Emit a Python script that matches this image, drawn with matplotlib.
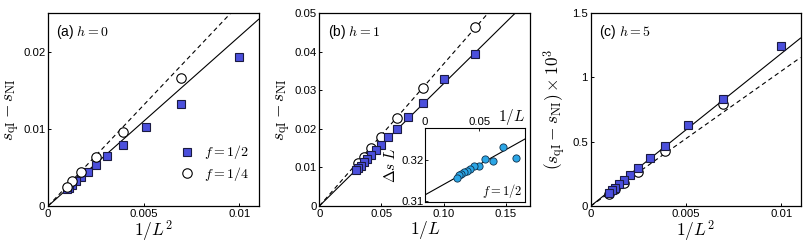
import matplotlib
matplotlib.use("Agg")
import matplotlib.pyplot as plt
import numpy as np

plt.rcParams["font.family"] = ["Liberation Sans", "DejaVu Sans"]
plt.rcParams["mathtext.fontset"] = "cm"

# system sizes
L_half = np.array([10, 12, 14, 16, 18, 20, 22, 24, 26, 28, 30, 32])
L_quarter = np.array([12, 16, 20, 24, 28, 32])
L_half_b = np.array([8, 10, 12, 14, 16, 18, 20, 22, 24, 26, 28, 30, 32, 34])
L_quarter_b = np.array([8, 12, 16, 20, 24, 28, 32])
L_inset = np.array([12, 14, 16, 18, 20, 22, 24, 26, 28, 30, 32, 34])

# (a) h = 0
a_half = [0.0193, 0.0132, 0.0103, 0.0079, 0.0065, 0.0053, 0.0044, 0.00375,
          0.0032, 0.00276, 0.00237, 0.00216]
a_quarter = [0.0166, 0.0096, 0.0063, 0.0044, 0.0032, 0.0025]
a_slope_solid = 2.2
a_slope_dashed = 2.62

# (b) h = 1
b_half = [0.0395, 0.0330, 0.0267, 0.0231, 0.0200, 0.0178, 0.0159, 0.0145,
          0.0132, 0.0122, 0.0113, 0.0105, 0.0099, 0.0093]
b_quarter = [0.0465, 0.0305, 0.0228, 0.0180, 0.0150, 0.0128, 0.0112]
b_slope_solid = 0.317
b_slope_dashed = 0.368
inset_vals = [0.3204, 0.3231, 0.3198, 0.3201, 0.3186, 0.3184, 0.3177, 0.3173,
              0.3170, 0.3166, 0.3162, 0.3156]
inset_a, inset_b = 0.3115, 0.147

# (c) h = 5, in units of 1e-3
c_half = [1.243, 0.829, 0.627, 0.466, 0.376, 0.295, 0.244, 0.200, 0.168,
          0.142, 0.122, 0.104]
c_quarter = [0.790, 0.427, 0.264, 0.179, 0.135, 0.091]
c_slope_solid = 118.7
c_slope_dashed = 105.0

sq_kw = dict(marker="s", ls="none", ms=6.2, mfc="#4b4fdc", mec="#1a1a40", mew=0.8)
ci_kw = dict(marker="o", ls="none", ms=6.8, mfc="white", mec="black", mew=0.8)
tick_fs = 8.2
lab_fs = 12.5
panel_fs = 10

fig = plt.figure(figsize=(8.1, 2.43), dpi=100)
ax_a = fig.add_axes([0.0593, 0.152, 0.260, 0.794])
ax_b = fig.add_axes([0.3942, 0.152, 0.2607, 0.794])
ax_c = fig.add_axes([0.7293, 0.152, 0.259, 0.794])


def style(ax):
    ax.tick_params(direction="in", length=2.5, width=0.7, labelsize=tick_fs,
                   pad=2, top=False, right=False)
    for s in ax.spines.values():
        s.set_linewidth(0.9)


# panel a
xl = np.array([0, 0.011])
ax_a.plot(xl, a_slope_solid * xl, color="black", lw=0.8)
ax_a.plot(xl, a_slope_dashed * xl, color="black", lw=0.8, ls=(0, (4, 3)))
ax_a.plot(1 / L_half**2, a_half, label=r"$f=1/2$", **sq_kw)
ax_a.plot(1 / L_quarter**2, a_quarter, label=r"$f=1/4$", **ci_kw)
ax_a.set_xlim(0, 0.011)
ax_a.set_ylim(0, 0.025)
ax_a.set_xticks([0, 0.005, 0.01])
ax_a.set_xticklabels(["0", "0.005", "0.01"])
ax_a.set_yticks([0, 0.01, 0.02])
ax_a.set_yticklabels(["0", "0.01", "0.02"])
ax_a.set_xlabel(r"$1/L^2$", fontsize=lab_fs, labelpad=0)
ax_a.set_ylabel(r"$s_{\rm qI}-s_{\rm NI}$", fontsize=lab_fs, labelpad=1)
ax_a.text(0.04, 0.95, r"(a) $h=0$", transform=ax_a.transAxes,
          fontsize=panel_fs, va="top", ha="left")
ax_a.legend(loc="lower right", bbox_to_anchor=(1.0, 0.07), frameon=False,
            fontsize=10, handletextpad=0.6, labelspacing=0.25,
            borderaxespad=0.3, handlelength=1.2)
style(ax_a)

# panel b
xl = np.array([0, 0.17])
ax_b.plot(xl, b_slope_solid * xl, color="black", lw=0.8)
ax_b.plot(xl, b_slope_dashed * xl, color="black", lw=0.8, ls=(0, (4, 3)))
ax_b.plot(1 / L_quarter_b, b_quarter, **ci_kw)
ax_b.plot(1 / L_half_b, b_half, **sq_kw)
ax_b.set_xlim(0, 0.17)
ax_b.set_ylim(0, 0.05)
ax_b.set_xticks([0, 0.05, 0.10, 0.15])
ax_b.set_xticklabels(["0", "0.05", "0.10", "0.15"])
ax_b.set_yticks([0, 0.01, 0.02, 0.03, 0.04, 0.05])
ax_b.set_yticklabels(["0", "0.01", "0.02", "0.03", "0.04", "0.05"])
ax_b.set_xlabel(r"$1/L$", fontsize=lab_fs, labelpad=0)
ax_b.set_ylabel(r"$s_{\rm qI}-s_{\rm NI}$", fontsize=lab_fs, labelpad=1)
ax_b.text(0.04, 0.95, r"(b) $h=1$", transform=ax_b.transAxes,
          fontsize=panel_fs, va="top", ha="left")
style(ax_b)

# inset of panel b
ax_in = fig.add_axes([0.5247, 0.169, 0.1235, 0.303])
xi = np.array([0, 0.092])
ax_in.plot(xi, inset_a + inset_b * xi, color="black", lw=0.8)
ax_in.plot(1 / L_inset, inset_vals, marker="o", ls="none", ms=5.2,
           mfc="#2ba6e6", mec="#10304a", mew=0.6)
ax_in.set_xlim(0, 0.092)
ax_in.set_ylim(0.3098, 0.3276)
ax_in.xaxis.tick_top()
ax_in.set_xticks([0, 0.05])
ax_in.set_xticklabels(["0", "0.05"])
ax_in.set_yticks([0.31, 0.32])
ax_in.set_yticklabels(["0.31", "0.32"])
ax_in.tick_params(direction="in", length=2, width=0.6, labelsize=tick_fs, pad=1)
ax_in.text(0.97, 0.03, r"$f=1/2$", transform=ax_in.transAxes, fontsize=9,
           ha="right", va="bottom")
ax_in.text(1.0, 1.02, r"$1/L$", transform=ax_in.transAxes, fontsize=11,
           ha="right", va="bottom")
ax_in.set_ylabel(r"$\Delta s\;L$", fontsize=11, labelpad=2.5)
for s in ax_in.spines.values():
    s.set_linewidth(0.8)

# panel c
xl = np.array([0, 0.011])
ax_c.plot(xl, c_slope_solid * xl, color="black", lw=0.8)
ax_c.plot(xl, c_slope_dashed * xl, color="black", lw=0.8, ls=(0, (4, 3)))
ax_c.plot(1 / L_quarter**2, c_quarter, **ci_kw)
ax_c.plot(1 / L_half**2, c_half, **sq_kw)
ax_c.set_xlim(0, 0.011)
ax_c.set_ylim(0, 1.5)
ax_c.set_xticks([0, 0.005, 0.01])
ax_c.set_xticklabels(["0", "0.005", "0.01"])
ax_c.set_yticks([0, 0.5, 1, 1.5])
ax_c.set_yticklabels(["0", "0.5", "1", "1.5"])
ax_c.set_xlabel(r"$1/L^2$", fontsize=lab_fs, labelpad=0)
ax_c.set_ylabel(r"$(s_{\rm qI}-s_{\rm NI})\times10^3$", fontsize=lab_fs,
                labelpad=2)
ax_c.text(0.04, 0.95, r"(c) $h=5$", transform=ax_c.transAxes,
          fontsize=panel_fs, va="top", ha="left")
style(ax_c)

fig.savefig("out.png", dpi=100)
